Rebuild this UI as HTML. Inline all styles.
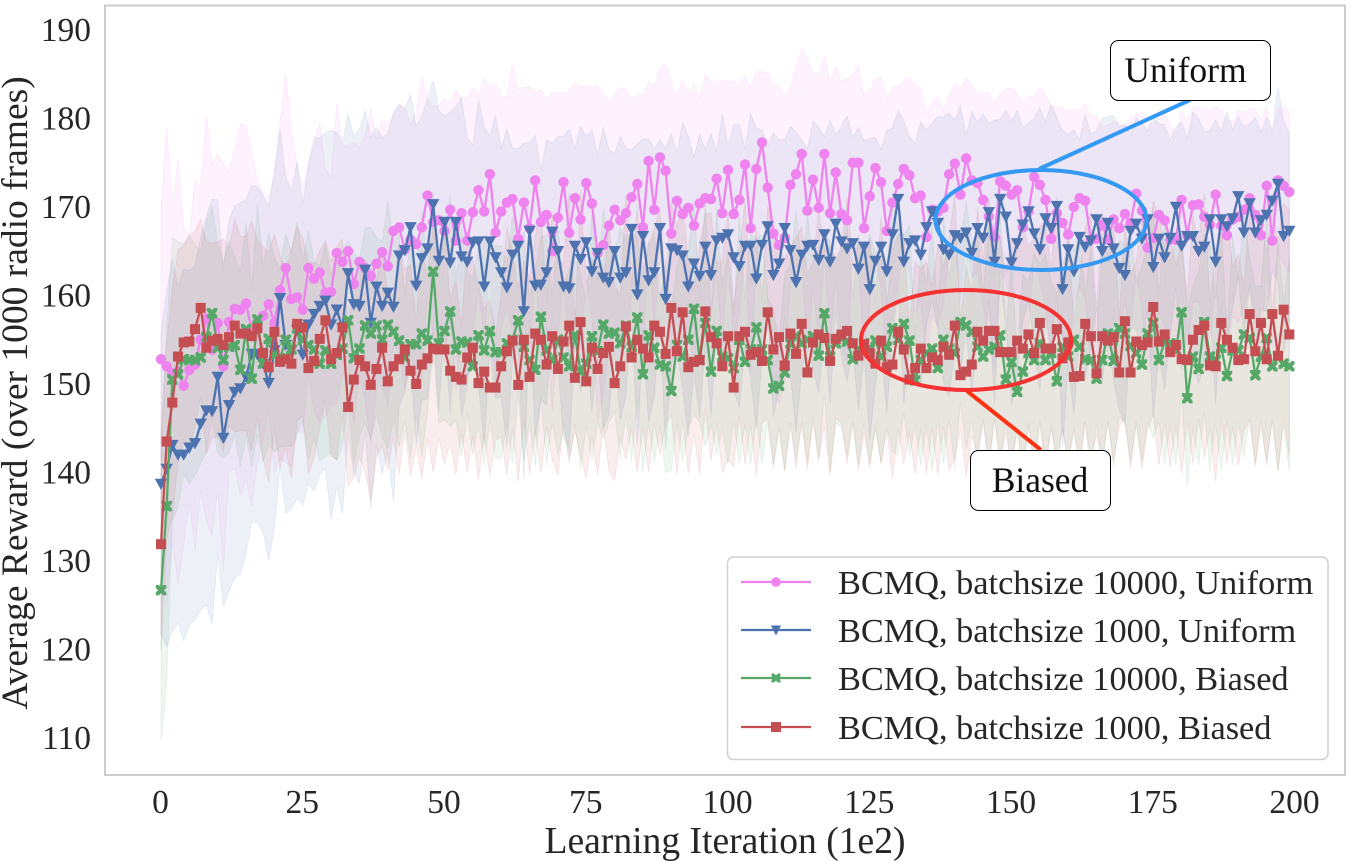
<!DOCTYPE html>
<html lang="en">
<head>
<meta charset="utf-8">
<title>Average Reward over Learning Iterations</title>
<style>
html,body{margin:0;padding:0;background:#fff;width:1353px;height:861px;overflow:hidden}
svg{display:block;font-family:"Liberation Serif",serif}
text{fill:#262626}
</style>
</head>
<body>
<svg id="chart" width="1353" height="861" viewBox="0 0 1353 861" xmlns="http://www.w3.org/2000/svg">
  <rect x="0" y="0" width="1353" height="861" fill="#fff"/>
  <g id="bands"></g>
  <g id="lines"></g>
  <rect x="105" y="5.5" width="1240" height="769.5" fill="none" stroke="#cccccc" stroke-width="2"/>
  <g id="xticks"></g>
  <g id="yticks"></g>
  <text x="725" y="853" font-size="37.6" text-anchor="middle">Learning Iteration (1e2)</text>
  <text transform="translate(27,393) rotate(-90)" font-size="37.5" text-anchor="middle">Average Reward (over 1000 radio frames)</text>

  <ellipse cx="1041" cy="220" rx="105.5" ry="50" fill="none" stroke="#3399f3" stroke-width="4"/>
  <line x1="1039" y1="169" x2="1190" y2="100" stroke="#3399f3" stroke-width="4"/>
  <ellipse cx="966" cy="340" rx="105" ry="50" fill="none" stroke="#f53232" stroke-width="4"/>
  <line x1="967" y1="391" x2="1041" y2="450" stroke="#ff3311" stroke-width="4"/>
  <rect x="1110.5" y="40.5" width="160" height="60" rx="8" fill="#fff" stroke="#000" stroke-width="1"/>
  <text x="1185.5" y="82" font-size="35.5" text-anchor="middle" style="fill:#111">Uniform</text>
  <rect x="970.5" y="450.5" width="140" height="60" rx="8" fill="#fff" stroke="#000" stroke-width="1"/>
  <text x="1040" y="492" font-size="35.5" text-anchor="middle" style="fill:#111">Biased</text>

  <g>
    <rect x="727.5" y="557" width="600.5" height="202.5" rx="6" fill="#fff" fill-opacity="0.9" stroke="#d0d0d0" stroke-width="1.5"/>
    <g>
      <line x1="741" y1="582" x2="811" y2="582" stroke="#ee82ee" stroke-width="2.2"/>
      <circle cx="776" cy="582" r="4.8" fill="#ee82ee"/>
      <text x="838" y="594" font-size="34.3">BCMQ, batchsize 10000, Uniform</text>
    </g>
    <g>
      <line x1="741" y1="630" x2="811" y2="630" stroke="#4c72b0" stroke-width="2.2"/>
      <polygon points="771,625.5 781,625.5 776,635.5" fill="#4c72b0"/>
      <text x="838" y="642" font-size="34.3">BCMQ, batchsize 1000, Uniform</text>
    </g>
    <g>
      <line x1="741" y1="678" x2="811" y2="678" stroke="#55a868" stroke-width="2.2"/>
      <polygon points="771.5,673.5 774,673.5 776,675.5 778,673.5 780.5,673.5 780.5,676 778.5,678 780.5,680 780.5,682.5 778,682.5 776,680.5 774,682.5 771.5,682.5 771.5,680 773.5,678 771.5,676" fill="#55a868"/>
      <text x="838" y="690" font-size="34.3">BCMQ, batchsize 10000, Biased</text>
    </g>
    <g>
      <line x1="741" y1="727" x2="811" y2="727" stroke="#c44e52" stroke-width="2.2"/>
      <rect x="771" y="722" width="10" height="10" fill="#c44e52"/>
      <text x="838" y="739" font-size="34.3">BCMQ, batchsize 1000, Biased</text>
    </g>
  </g>
</svg>
<script>
const xTickValues = [0, 25, 50, 75, 100, 125, 150, 175, 200];
const yTickValues = [110, 120, 130, 140, 150, 160, 170, 180, 190];

const pinkMean = [152.8,152.0,151.2,151.4,149.8,151.6,152.2,155.0,157.4,153.9,
156.9,152.0,157.0,158.5,158.4,159.1,156.1,157.0,157.7,159.0,
156.9,160.6,163.1,159.6,159.8,158.4,163.1,161.9,162.6,160.3,
160.4,164.8,163.8,165.0,161.3,163.8,163.1,162.2,163.6,164.9,
163.3,167.3,167.7,165.2,166.3,165.8,167.7,171.3,168.3,168.5,
167.3,169.7,166.2,169.3,166.2,169.4,171.9,169.5,173.7,167.1,
169.5,170.5,170.9,166.4,170.5,167.6,173.0,168.3,169.1,165.0,
168.8,172.8,167.1,171.0,168.6,172.7,170.4,164.8,165.7,167.9,
169.7,168.5,169.3,171.1,172.6,167.7,175.2,169.7,175.6,174.1,
167.0,170.7,169.2,169.9,167.9,170.4,171.0,170.9,173.2,169.3,
174.2,169.2,170.8,174.8,167.6,174.3,177.3,172.2,167.0,165.7,
166.5,172.5,173.7,176.0,169.6,173.1,169.9,176.0,169.3,173.9,
169.2,168.5,175.0,175.0,167.6,171.2,174.4,172.8,167.3,170.5,
172.6,174.3,173.6,171.0,171.3,166.6,169.7,169.5,169.9,173.7,
174.9,171.4,175.5,173.0,172.7,170.8,168.9,166.6,172.9,172.4,
171.4,171.9,167.7,169.5,173.4,172.5,170.8,166.4,169.3,168.2,
166.9,170.0,171.0,170.7,166.3,166.4,168.0,166.3,168.6,167.6,
169.2,168.2,171.5,169.6,165.4,166.5,169.1,168.5,166.3,166.3,
170.8,166.8,170.2,170.3,168.9,168.0,171.4,167.9,166.8,168.6,
168.9,169.7,171.0,169.1,166.8,172.4,166.2,173.0,172.4,171.7];

const blueMean = [138.7,140.4,143.1,142,142,142.8,143.3,145.5,147,146.9,
150.8,143.9,147.6,149.1,149.5,150.8,153.4,153.3,152.3,150.1,
153.8,159.7,154.4,153.8,156.1,153.3,156.7,157.9,158.8,159.4,
156.7,158.4,156.3,162.5,159,158.8,162.9,156.9,161,158.8,
160.3,158.7,164.5,165.1,167.7,161.1,164.2,165.3,170.3,163.9,
168.3,163.7,168.3,164.4,163.8,166,166.1,161,166.1,164.3,
162.6,160.9,164.6,165.6,158.2,167.3,161.1,161.2,162.6,167.2,
165,161,160.8,165.6,164.1,166,162.7,164.8,162,161.5,
165,162,162.6,167.5,160.1,166.7,161.7,162.6,167.6,159.6,
165.3,165.1,164.5,161,163.6,162.2,165.5,162.3,166.2,166.5,
166.9,164.3,163.3,165.6,165.6,161.9,165.7,167.8,162.3,163.6,
167.6,165.1,161.5,164.6,165.6,165.7,164,166.9,163.8,168.1,
166.1,165.3,165.9,163,165.5,160.7,163.9,165.5,162.7,166.9,
170.9,163.8,165.9,166.2,164.6,167.7,169.5,168.2,165.2,164.6,
166.8,166.5,167.1,164.8,167.6,166.5,169.4,163.8,170.9,168.9,
163.7,165.9,168,169.5,167,165.2,168.7,167.6,170.1,160.7,
165.2,162.7,166.6,165.5,166.2,168.6,165,168.2,165.3,163.1,
162.3,167.3,168.1,166.4,168.6,163.2,166.4,164.3,166.5,170,
165.6,166.7,166.7,165,165.5,168.6,163.8,168.6,167.8,168.7,
171.2,167.1,170.4,167.1,168.5,169.1,170.7,172.6,166.7,167.3];

const greenMean = [126.7,136.2,150.5,151.1,152.8,152.7,152.7,153,155.3,158,
154.1,152.7,154.2,154.4,151.6,156.2,150.6,157.3,152.3,155.1,
153.3,152.9,155,153.9,156.3,155,154.4,153.9,152.3,153.8,
152.3,153.3,154,157.2,152.9,154,156.6,155.7,156.6,155,
156.7,155.9,154.9,153,154.5,154.5,155.7,154.9,162.7,154.6,
156,158.2,153.9,154.8,154.7,152,155.5,153.8,156,153.6,
153.6,154.6,155,157.2,154.2,152.7,151.6,157.6,153.8,152.7,
155,153,152,155.5,151.4,152.3,155.4,153.7,156.7,155.7,
155.8,154.6,156.6,154.2,157.5,151.1,155.5,154.1,152.2,152,
149.2,154.4,153.1,155,158.5,152.7,156.9,151.4,156,153.1,
152.9,151.8,155,152.5,153.9,156.4,153.9,152.7,149.5,149.8,
151.3,154.6,155.4,154.6,155,155.4,153.2,158,153.1,154.6,
155.2,154.8,152.8,153.9,154.6,154,154.9,153.1,154.2,156.3,
155,156.8,154.9,150.4,152.7,153.5,154,151.8,155,154,
153.5,157,156.6,155.9,154.2,153.1,153.9,154.2,155.5,150.5,
152.5,149.1,151.4,153.5,152.7,154.6,152.7,153.5,150.3,154.2,
153.1,155,154.2,152.8,152.7,150.6,152.7,155.7,152.6,156.3,
155.7,154.3,153.5,152.2,155.7,156.9,152.7,154.8,154.6,153.8,
158.1,148.4,153.1,151.7,157,153.1,152.7,154.1,150.9,153.8,
153.8,155.6,155.2,151,153.1,155.2,152,153.1,152.3,152];

const redMean = [131.9,143.5,147.9,153.1,154.7,154.8,156.2,158.6,154.1,154.9,
155.1,154.4,155.3,156.6,155.7,155.7,155.4,156.3,153.5,151.9,
155.9,152.5,152.8,152.3,156.8,156.4,151.8,152.6,155.1,157.2,
152.8,153.5,156.4,147.4,150.5,152.7,152,149.9,151.7,154.1,
150.3,152,152.8,153.9,151.5,150,152.2,152.9,154,153.9,
153.9,151.5,150.8,150.5,153,154.1,150.1,151.4,149.6,149.6,
152,153.7,154.9,149.9,155,150.8,155.7,155,152.2,155.4,
151.7,154.8,156.6,150.7,157,150.3,154.1,151.7,153.5,154.2,
150.1,152,156.5,153,155,154,153,156.6,155.9,153.4,
158.6,153.7,158.1,151.9,152.5,152.7,158.2,155.3,154.6,152,
155.4,149.6,155.4,155.9,153.3,153.6,152.6,158.1,153.9,155.3,
152.1,155.7,153.4,156.8,151.3,154.7,155.6,155.2,152.6,155.1,
155.6,156,154.6,153.2,154.5,153.5,152.3,154.9,151.9,152.2,
155.9,153.9,150.5,151.8,154,151.8,153,152.7,154.2,153.3,
156.6,151,151.4,152.2,155.9,154.9,156,156,153.6,153.6,
153.6,154.9,154,155.6,153.5,156.9,154,154,156.2,152.9,
154.7,150.8,150.9,156.8,155.4,151.2,155.4,154.9,155.3,151.3,
157.1,151.3,154.8,154.4,154.7,158.7,154.8,155.6,153.6,154.4,
152.8,152.7,155,156.1,156.6,152.1,152,156.9,155,154.1,
152.7,152.8,157.9,153.7,156.9,152.8,157.9,153.2,158.4,155.6];

const pinkStd = [17,27,19,24,18,15,21,17,23,21,
19,23,17,18,21,20,20,16,14,12,
17,19,22,19,15,14,12,15,17,14,
13,17,13,12,16,13,15,19,14,15,
16,13,14,16,13,15,17,11,13,13,
15,12,17,13,16,14,11,15,10,17,
13,12,15,17,13,16,10,15,13,18,
14,10,16,13,15,11,13,19,17,14,
13,15,14,11,10,15,9,14,10,12,
17,12,15,13,16,12,14,13,11,15,
10,15,13,10,16,11,8,13,17,18,
16,11,12,12,17,12,15,11,15,12,
15,16,10,11,15,12,10,12,15,13,
11,10,11,13,12,14,12,13,11,9,
9,12,9,11,10,12,14,15,10,11,
12,11,14,13,9,11,12,15,12,13,
14,11,10,11,14,14,11,13,11,12,
10,12,9,11,14,13,11,12,13,12,
10,13,11,11,12,13,10,13,13,11,
12,11,10,12,13,9,12,8,9,9];

const blueStd = [17,20,21,19,21,20,20,21,22,24,
20,19,21,21,21,20,19,19,19,20,
20,19,19,18,19,17,18,20,19,19,
22,20,21,18,19,20,18,21,18,19,
18,22,17,16,15,18,16,17,14,17,
12,17,13,18,14,11,16,18,12,16,
14,18,12,11,19,10,17,13,15,10,
13,17,18,11,15,12,16,11,17,15,
11,16,14,9,17,11,16,14,10,17,
13,11,15,17,12,16,11,16,10,14,
10,15,16,11,15,17,13,9,16,14,
10,14,17,13,11,14,15,11,16,10,
13,15,12,16,12,17,14,11,16,12,
10,16,12,11,15,11,10,12,15,16,
13,15,11,16,12,14,10,16,9,12,
16,15,11,10,13,16,11,14,10,18,
13,16,11,15,12,10,15,12,15,16,
17,11,12,13,10,17,13,15,11,9,
14,11,14,15,13,10,16,10,13,10,
9,12,9,13,10,11,8,11,13,11];

const greenStd = [17,20,16,15,13,14,13,12,13,12,
12,11,12,10,11,12,10,13,11,12,
11,10,12,11,12,9,13,10,11,12,
10,12,11,9,12,10,11,12,10,11,
14,10,12,7,13,8,14,8,9,9,
10,13,8,13,8,10,10,13,10,12,
12,9,14,8,13,7,11,9,13,7,
13,8,11,10,11,7,14,8,13,10,
9,13,10,13,9,11,10,13,7,12,
9,9,12,10,12,7,14,6,14,8,
12,6,14,7,13,10,13,7,9,5,
11,9,14,9,14,9,12,9,13,9,
10,13,7,13,9,13,10,12,9,14,
13,10,13,5,12,8,14,6,14,8,
13,9,14,10,13,7,14,8,14,5,
12,4,11,8,12,9,12,8,10,9,
13,10,13,7,13,5,12,10,12,10,
10,13,8,11,10,13,7,14,9,13,
9,10,8,11,10,13,7,14,5,13,
8,14,9,10,8,14,6,13,7,12];

const redStd = [12,11,13,12,11,12,11,10,12,11,
11,12,10,12,11,11,13,10,12,13,
11,12,10,13,11,10,12,11,10,9,
11,12,10,9,11,11,12,13,10,11,
10,8,13,9,12,7,13,9,14,10,
13,8,11,6,13,10,11,7,10,6,
8,14,10,11,9,11,11,15,7,14,
12,9,15,6,15,11,10,12,8,14,
11,8,15,8,15,9,13,11,14,8,
12,14,12,12,8,13,11,14,9,12,
14,9,9,15,8,14,7,12,13,10,
12,10,13,11,11,9,14,10,13,9,
10,15,9,13,10,13,7,14,7,13,
11,13,6,12,9,12,8,13,9,13,
15,6,12,8,14,9,15,10,13,9,
13,10,14,10,13,11,14,9,15,8,
13,6,11,11,14,7,14,9,14,6,
11,11,9,14,10,12,14,10,13,9,
13,7,14,10,15,7,13,11,14,9,
12,8,12,13,11,12,12,13,12,14];

const NS = 'http://www.w3.org/2000/svg';
function xScale(v) { return 161 + v * 5.67; }
function yScale(v) { return 738 - (v - 110) * 8.85; }

function make(tag, attrs, parent) {
  const el = document.createElementNS(NS, tag);
  for (const k in attrs) el.setAttribute(k, attrs[k]);
  parent.appendChild(el);
  return el;
}

const xtickGroup = document.getElementById('xticks');
xTickValues.forEach(function (v) {
  const t = make('text', { x: xScale(v) - 0.5, y: 813, 'font-size': 33.5, 'text-anchor': 'middle' }, xtickGroup);
  
  
  t.textContent = v;
});

const ytickGroup = document.getElementById('yticks');
yTickValues.forEach(function (v) {
  const t = make('text', { x: 91, y: yScale(v) + 11, 'font-size': 33.5, 'text-anchor': 'end' }, ytickGroup);
  
  
  t.textContent = v;
});

function drawMarker(kind, cx, cy, color, parent) {
  let m;
  if (kind === 'circle') {
    m = make('circle', { cx: cx, cy: cy, r: 5.2, fill: color }, parent);
  } else if (kind === 'triangle') {
    m = make('polygon', { points: (cx - 6.2) + ',' + (cy - 5.2) + ' ' + (cx + 6.2) + ',' + (cy - 5.2) + ' ' + cx + ',' + (cy + 6), fill: color }, parent);
  } else if (kind === 'x') {
    const a = 5.2, b = 2.9, c = 2.2;
    const pts = [[-a,-a],[-c,-a],[0,-b],[c,-a],[a,-a],[a,-c],[b,0],[a,c],[a,a],[c,a],[0,b],[-c,a],[-a,a],[-a,c],[-b,0],[-a,-c]];
    m = make('polygon', { points: pts.map(function (p) { return (cx + p[0]) + ',' + (cy + p[1]); }).join(' '), fill: color }, parent);
  } else {
    m = make('rect', { x: cx - 5, y: cy - 5, width: 10, height: 10, fill: color }, parent);
  }
  
  
}

function drawSeries(key, mean, std, color, kind) {
  const bandGroup = document.getElementById('bands');
  const lineGroup = document.getElementById('lines');
  const upper = mean.map(function (v, i) { return xScale(i).toFixed(2) + ',' + yScale(v + std[i]).toFixed(2); });
  const lower = mean.map(function (v, i) { return xScale(i).toFixed(2) + ',' + yScale(v - std[i]).toFixed(2); }).reverse();
  const band = make('polygon', { points: upper.concat(lower).join(' '), fill: color, 'fill-opacity': 0.1, stroke: color, 'stroke-opacity': 0.1, 'stroke-width': 1 }, bandGroup);
  
  
  const g = make('g', {}, lineGroup);
  
  
  const line = make('polyline', { points: mean.map(function (v, i) { return xScale(i).toFixed(2) + ',' + yScale(v).toFixed(2); }).join(' '), fill: 'none', stroke: color, 'stroke-width': 2.3, 'stroke-linejoin': 'round' }, g);
  
  
  mean.forEach(function (v, i) { drawMarker(kind, xScale(i), yScale(v), color, g); });
}

drawSeries('pink-batch10000-uniform', pinkMean, pinkStd, '#ee82ee', 'circle');
drawSeries('blue-batch1000-uniform', blueMean, blueStd, '#4c72b0', 'triangle');
drawSeries('green-batch10000-biased', greenMean, greenStd, '#55a868', 'x');
drawSeries('red-batch1000-biased', redMean, redStd, '#c44e52', 'square');
</script>
</body>
</html>
